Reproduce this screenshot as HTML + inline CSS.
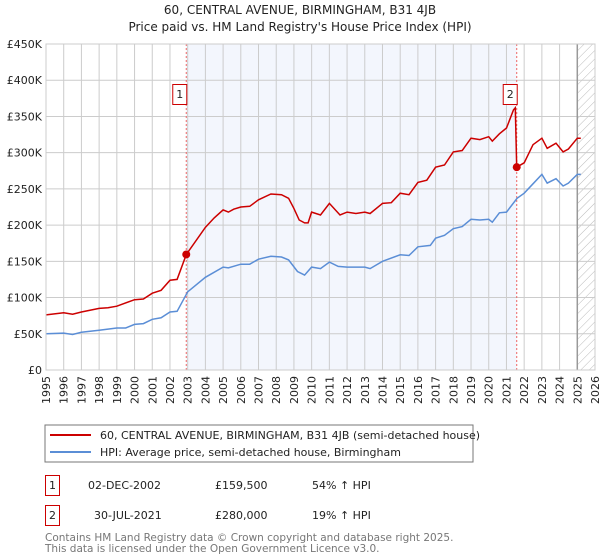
<!DOCTYPE html>
<html><head><meta charset="utf-8"><style>
body{margin:0;background:#fff;font-family:"DejaVu Sans","Liberation Sans",sans-serif}
svg{display:block}
</style></head><body>
<svg id="chart" width="600" height="560" xmlns="http://www.w3.org/2000/svg" font-family="DejaVu Sans, Liberation Sans, sans-serif">
<text x="300" y="14" text-anchor="middle" font-size="12" fill="#222">60, CENTRAL AVENUE, BIRMINGHAM, B31 4JB</text>
<text x="300" y="31" text-anchor="middle" font-size="12" fill="#222">Price paid vs. HM Land Registry's House Price Index (HPI)</text>
<defs><pattern id="hatch" width="6" height="6" patternUnits="userSpaceOnUse" patternTransform="rotate(45)"><line x1="0" y1="0" x2="0" y2="6" stroke="#bbb" stroke-width="1"/></pattern></defs>
<g id="bg"></g><g id="grid"></g><g id="series"></g><g id="axes"></g>
<rect x="45" y="425" width="428" height="37" fill="#fff" stroke="#777"/>
<line x1="50" y1="435" x2="91" y2="435" stroke="#cc0000" stroke-width="2"/>
<text x="100" y="439" font-size="11" fill="#222">60, CENTRAL AVENUE, BIRMINGHAM, B31 4JB (semi-detached house)</text>
<line x1="50" y1="452" x2="91" y2="452" stroke="#5b8ed6" stroke-width="2"/>
<text x="100" y="456" font-size="11" fill="#222">HPI: Average price, semi-detached house, Birmingham</text>
<rect x="45.5" y="475.5" width="14" height="20" fill="#fff" stroke="#cc0000"/>
<text x="52.5" y="489" font-size="11" text-anchor="middle" fill="#222">1</text>
<text x="88" y="489" font-size="11" fill="#222">02-DEC-2002</text>
<text x="215" y="489" font-size="11" fill="#222">£159,500</text>
<text x="312" y="489" font-size="11" fill="#222">54% ↑ HPI</text>
<rect x="45.5" y="505.5" width="14" height="20" fill="#fff" stroke="#cc0000"/>
<text x="52.5" y="519" font-size="11" text-anchor="middle" fill="#222">2</text>
<text x="94" y="519" font-size="11" fill="#222">30-JUL-2021</text>
<text x="215" y="519" font-size="11" fill="#222">£280,000</text>
<text x="312" y="519" font-size="11" fill="#222">19% ↑ HPI</text>
<text x="45" y="541" font-size="10.5" fill="#777">Contains HM Land Registry data © Crown copyright and database right 2025.</text>
<text x="45" y="552" font-size="10.5" fill="#777">This data is licensed under the Open Government Licence v3.0.</text>
</svg>
<script>
const years=[1995,1996,1997,1998,1999,2000,2001,2002,2003,2004,2005,2006,2007,2008,2009,2010,2011,2012,2013,2014,2015,2016,2017,2018,2019,2020,2021,2022,2023,2024,2025,2026];
const yTicks=[0,50,100,150,200,250,300,350,400,450];
const yTickLabels=["£0","£50K","£100K","£150K","£200K","£250K","£300K","£350K","£400K","£450K"];
const propT=[1995,1996,1996.5,1997,1998,1998.5,1999,2000,2000.5,2001,2001.5,2002,2002.4,2002.92,2004,2004.5,2005,2005.3,2005.6,2006,2006.5,2007,2007.7,2008.3,2008.7,2009,2009.3,2009.6,2009.8,2010,2010.5,2011,2011.6,2012,2012.5,2013,2013.3,2014,2014.5,2015,2015.5,2016,2016.5,2017,2017.5,2018,2018.5,2019,2019.5,2020,2020.2,2020.6,2021,2021.4,2021.5,2021.58,2022,2022.5,2023,2023.3,2023.8,2024.2,2024.5,2025,2025.2];
const propV=[76,79,77,80,85,86,88,97,98,106,110,124,125,159.5,197,210,221,218,222,225,226,235,243,242,237,223,207,203,203,218,214,230,214,218,216,218,216,230,231,244,242,259,262,280,283,301,303,320,318,322,316,326,334,359,362,280,286,311,320,306,313,301,305,320,320];
const hpiT=[1995,1996,1996.5,1997,1998,1999,1999.5,2000,2000.5,2001,2001.5,2002,2002.4,2003,2004,2005,2005.3,2006,2006.5,2007,2007.7,2008.3,2008.7,2009.2,2009.6,2010,2010.5,2011,2011.5,2012,2013,2013.3,2014,2015,2015.5,2016,2016.7,2017,2017.5,2018,2018.5,2019,2019.5,2020,2020.2,2020.6,2021,2021.6,2022,2022.5,2023,2023.3,2023.8,2024.2,2024.5,2025,2025.2];
const hpiV=[50,51,49,52,55,58,58,63,64,70,72,80,81,108,128,142,141,146,146,153,157,156,152,136,131,142,140,149,143,142,142,140,150,159,158,170,172,182,186,195,198,208,207,208,204,217,218,237,244,257,270,258,264,254,258,270,270];
const sales=[{t:2002.92,v:159.5,n:"1"},{t:2021.58,v:280,n:"2"}];
const X0=46,X1=595,Y0=370,Y1=44;
const x=t=>X0+(t-1995)/31*(X1-X0);
const y=v=>Y0-v/450*(Y0-Y1);
const NS="http://www.w3.org/2000/svg";
function mk(parent,tag,attrs){const e=document.createElementNS(NS,tag);for(const k in attrs)e.setAttribute(k,attrs[k]);document.getElementById(parent).appendChild(e);return e;}
let e;
e=mk('bg','rect',{x:X0,y:Y1,width:X1-X0,height:Y0-Y1,fill:'#fff'});


e=mk('bg','rect',{x:x(sales[0].t),y:Y1,width:x(sales[1].t)-x(sales[0].t),height:Y0-Y1,fill:'#f3f6fd'});


e=mk('bg','rect',{x:x(2025),y:Y1,width:X1-x(2025),height:Y0-Y1,fill:'url(#hatch)'});


years.forEach(t=>{
 e=mk('grid','line',{x1:x(t),x2:x(t),y1:Y1,y2:Y0,stroke:'#ccc','stroke-width':1});
 
 
 e=mk('axes','text',{x:0,y:0,transform:`translate(${x(t)+4},${Y0+6}) rotate(-90)`,'text-anchor':'end','font-size':11,fill:'#222'});
 e.textContent=t;
 
 
});
yTicks.forEach((v,i)=>{
 e=mk('grid','line',{x1:X0,x2:X1,y1:y(v),y2:y(v),stroke:'#ccc','stroke-width':1});
 
 
 e=mk('axes','text',{x:X0-4,y:y(v)+4,'text-anchor':'end','font-size':11,fill:'#222'});
 e.textContent=yTickLabels[i];
 
 
});
e=mk('grid','line',{x1:x(2025),x2:x(2025),y1:Y1,y2:Y0,stroke:'#999','stroke-width':1.5});


sales.forEach(s=>{
 e=mk('grid','line',{x1:x(s.t),x2:x(s.t),y1:Y1,y2:Y0,stroke:'#e66','stroke-width':1,'stroke-dasharray':'2,2'});
 
 
});
const pts=(T,V)=>T.map((t,i)=>x(t).toFixed(1)+','+y(V[i]).toFixed(1)).join(' ');
e=mk('series','polyline',{points:pts(hpiT,hpiV),fill:'none',stroke:'#5b8ed6','stroke-width':1.5});


e=mk('series','polyline',{points:pts(propT,propV),fill:'none',stroke:'#cc0000','stroke-width':1.5});


sales.forEach(s=>{
 e=mk('series','circle',{cx:x(s.t),cy:y(s.v),r:4,fill:'#cc0000'});
 
 
 e=mk('series','rect',{x:x(s.t)-13.5,y:84.5,width:14,height:20,fill:'#fff',stroke:'#cc0000'});
 
 
 e=mk('series','text',{x:x(s.t)-6.5,y:98,'text-anchor':'middle','font-size':11,fill:'#222'});
 e.textContent=s.n;
 
 
});
e=mk('axes','rect',{x:X0,y:Y1,width:X1-X0,height:Y0-Y1,fill:'none',stroke:'#ccc'});


</script>
</body></html>
